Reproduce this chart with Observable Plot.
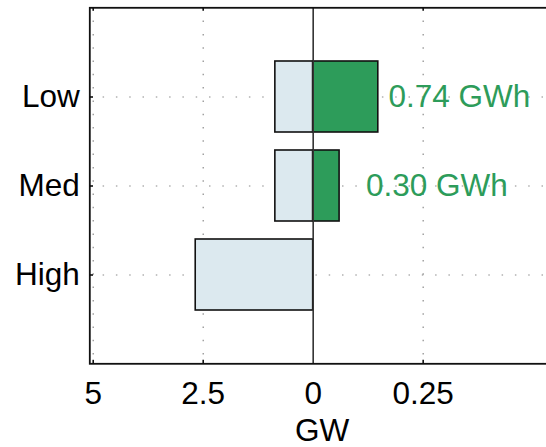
<!DOCTYPE html>
<html>
<head>
<meta charset="utf-8">
<script src="https://cdn.jsdelivr.net/npm/d3@7"></script>
<script src="https://cdn.jsdelivr.net/npm/@observablehq/plot@0.6"></script>
<style>
  html, body { margin: 0; padding: 0; background: #fff; overflow: hidden; }
  #chart { width: 546px; height: 447px; overflow: hidden; }
  #chart svg { display: block; max-width: none !important; width: 560px !important; height: 447px !important; }
</style>
</head>
<body>
<div id="chart"></div>
<script>
// ---- data ----
const categories = ["Low", "Med", "High"];
const powerGW = [0.86, 0.86, 2.67];          // light-blue bars (left half, reversed scale)
const storageGW = [0.148, 0.06, 0];          // green bars (right half)
const storageLabels = ["0.74 GWh", "0.30 GWh", ""];
const storageLabelX = [0.171, 0.12, 0];      // label anchor, GW on right scale
const leftTicks = [5, 2.5, 0];
const rightTicks = [0.25];
const xLabel = "GW";

// split axis: left half 2.5 GW per unit, right half 0.25 GW per unit
const LEFT_PER_UNIT = 2.5, RIGHT_PER_UNIT = 0.25;
const leftU = v => -v / LEFT_PER_UNIT;
const rightU = v => v / RIGHT_PER_UNIT;

const bars = categories.map((c, i) => ({cat: c, power: powerGW[i], storage: storageGW[i],
  label: storageLabels[i], lx: storageLabelX[i]}));
const greenBars = bars.filter(d => d.storage > 0);
const ticks = [
  ...leftTicks.map(v => ({u: leftU(v), label: String(v)})),
  ...rightTicks.map(v => ({u: rightU(v), label: String(v)}))
];
const gridTicks = ticks.filter(t => t.u !== 0);

const FONT = "'Liberation Sans', Arial, Helvetica, sans-serif";
const GREEN = "#2d9c5a";
const LIGHT = "#dce9ef";
const DOTS = "1.5,11.8";

const chart = Plot.plot({
  width: 560,
  height: 447,
  marginLeft: 89.3,
  marginRight: 6,
  marginTop: 7.3,
  marginBottom: 83.7,
  style: {fontFamily: FONT, fontSize: "31.5px", background: "#fff", color: "#000"},
  x: {domain: [-2.031, 2.194], axis: null},
  y: {domain: categories, paddingInner: 0.2, paddingOuter: 0.6, axis: null},
  marks: [
    // dotted grid
    Plot.ruleX(gridTicks, {x: "u", stroke: "#8a8a8a", strokeWidth: 1.2, strokeDasharray: DOTS}),
    Plot.ruleY(categories, {y: d => d, stroke: "#8a8a8a", strokeWidth: 1.2, strokeDasharray: DOTS}),
    // bars
    Plot.barX(bars, {y: "cat", x1: 0, x2: d => leftU(d.power), fill: LIGHT, stroke: "#111", strokeWidth: 1.6, insetTop: 0, insetBottom: 0}),
    Plot.barX(greenBars, {y: "cat", x1: 0, x2: d => rightU(d.storage), fill: GREEN, stroke: "#111", strokeWidth: 1.6, insetTop: 0, insetBottom: 0}),
    // zero line
    Plot.ruleX([0], {stroke: "#333", strokeWidth: 1.6}),
    // frame and inward ticks
    Plot.frame({stroke: "#111", strokeWidth: 1.8}),
    Plot.ruleX(gridTicks, {x: "u", stroke: "#111", strokeWidth: 1.6, insetBottom: 352.5}),
    Plot.ruleX(gridTicks, {x: "u", stroke: "#111", strokeWidth: 1.6, insetTop: 352.5}),
    Plot.ruleY(categories, {y: d => d, stroke: "#111", strokeWidth: 1.6, insetRight: 461}),
    // x tick labels
    Plot.text(ticks, {x: "u", text: "label", frameAnchor: "bottom", lineAnchor: "bottom", dy: 40, fill: "#000"}),
    // x axis label
    Plot.text([xLabel], {text: d => d, frameAnchor: "bottom", lineAnchor: "bottom", dy: 77, fill: "#000"}),
    // category labels
    Plot.text(categories, {y: d => d, text: d => d, frameAnchor: "left", textAnchor: "end", lineAnchor: "middle", dx: -10, fill: "#000"}),
    // storage labels
    Plot.text(greenBars, {y: "cat", x: d => rightU(d.lx), text: "label", textAnchor: "start", lineAnchor: "middle", fill: GREEN})
  ]
});
document.getElementById("chart").appendChild(chart);
</script>
</body>
</html>
